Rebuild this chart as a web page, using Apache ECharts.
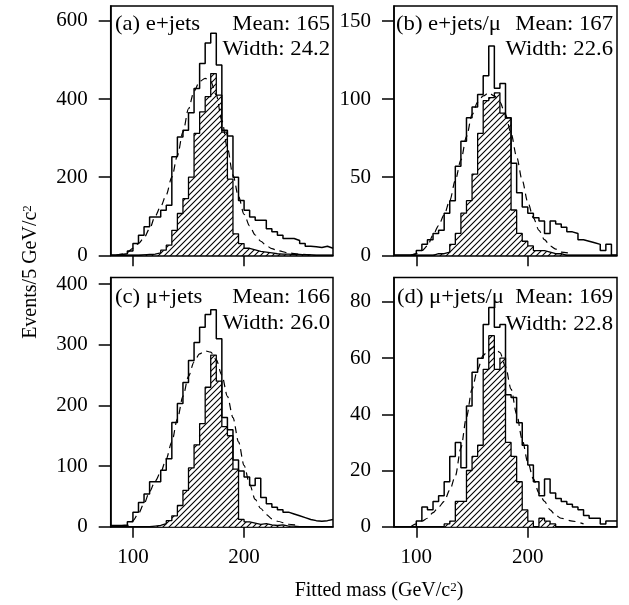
<!DOCTYPE html>
<html><head><meta charset="utf-8">
<script src="https://cdn.jsdelivr.net/npm/echarts@6/dist/echarts.min.js"></script>
<style>html,body{margin:0;padding:0;background:#fff}#c{width:629px;height:605px}</style>
</head><body><div id="c"></div>
<script>
// ---- data ----
const binLeft = [80,85,90,95,100,105,110,115,120,125,130,135,140,145,150,155,160,165,170,175,
                 180,185,190,195,200,205,210,215,220,225,230,235,240,245,250,255,260,265,270,275];
const binEdgeMax = 280;
const xTicks = [100, 200];

// (a) e+jets
const aAll   = [0,2,4,11,30,51,73,98,98,115,128,252,303,320,365,427,491,543,568,487,
                320,305,200,140,115,98,90,90,68,60,51,43,43,38,30,23,22,20,23,18];
const aHatch = [0,0,0,0,0,1,2,3,6,13,26,64,107,145,200,312,367,406,465,410,
                315,195,55,30,18,14,10,8,6,4,3,3,2,2,1,1,0,0,0,0];
const aFitX  = [85,90,95,100,105,110,115,120,125,130,135,140,145,150,155,160,165,170,175,180,185,190,195,200,205,210,215,220,225,230,240,250,260];
const aFitY  = [0,3,8,18,30,45,68,100,125,155,200,255,315,375,420,445,453,445,410,345,275,205,150,105,75,52,36,25,17,12,6,3,1];
const aTicks = [0,200,400,600];

// (b) e+jets/mu
const bAll   = [0,0,0,1,3,7,10,14,16,27,35,57,73,88,95,103,115,134,107,110,
                88,59,40,31,27,24,22,14,22,20,18,15,14,10,9,8,7,3,7,0];
const bHatch = [0,0,0,0,0,0,0,1,1,2,7,14,27,35,52,78,99,101,104,91,
                88,29,14,9,6,3,3,2,1,1,0,0,0,0,0,0,0,0,0,0];
const bFitX  = [95,100,105,110,115,120,125,130,135,140,145,150,155,160,165,170,175,180,185,190,195,200,205,210,215,220,225,230,240];
const bFitY  = [0,1,3,6,13,19,26,35,48,61,76,90,98,102,104,102,98,90,78,63,48,34,24,16,10,6,4,2,1];
const bTicks = [0,50,100,150];

// (c) mu+jets
const cAll   = [2,2,3,8,24,40,54,74,74,93,112,172,203,238,274,304,329,350,358,310,
                180,160,110,92,82,68,80,48,38,32,28,24,21,18,15,12,10,9,10,12];
const cHatch = [0,0,0,0,0,0,0,1,2,5,10,18,35,60,97,135,170,230,283,240,
                165,150,95,12,8,6,4,5,3,2,3,1,1,0,0,0,0,0,0,0];
const cFitX  = [90,95,100,105,110,115,120,125,130,135,140,145,150,155,160,165,170,175,180,185,190,195,200,205,210,215,220,225,230,240,250];
const cFitY  = [0,2,10,22,38,58,75,90,112,140,178,215,248,272,285,290,288,275,250,215,180,140,101,70,45,30,20,13,9,4,2];
const cTicks = [0,100,200,300,400];

// (d) mu+jets/mu
const dAll   = [0,0,0,0,2,7,6,9,11,16,25,30,21,43,55,60,72,78,71,72,
                47,46,37,29,22,16,11,17,12,10,9,8,7,6,4,3,3,1,2,2];
const dHatch = [0,0,0,0,0,0,0,0,0,1,2,9,9,20,25,29,56,68,56,60,
                30,25,16,6,2,0,3,2,1,0,0,0,0,0,0,0,0,0,0,0];
const dFitX  = [95,100,105,110,115,120,125,130,135,140,145,150,155,160,165,170,175,180,185,190,195,200,205,210,215,220,225,230,240,250];
const dFitY  = [0,1,2,3,5,7,9,13,18,28,39,49,56,61,63,64,62,57,49,40,31,23,17,12,9,6,4,3,2,1];
const dTicks = [0,20,40,60,80];

const panelLabels = ['(a) e+jets', '(b) e+jets/\u03bc', '(c) \u03bc+jets', '(d) \u03bc+jets/\u03bc'];
const meanLabels  = ['Mean: 165', 'Mean: 167', 'Mean: 166', 'Mean: 169'];
const widthLabels = ['Width: 24.2', 'Width: 22.6', 'Width: 26.0', 'Width: 22.8'];

// ---- drawing ----
const FONT = '"Liberation Serif", "Times New Roman", serif';
const FS = 21;

function hatchPattern() {
  const s = 6, c = document.createElement('canvas');
  c.width = s; c.height = s;
  const g = c.getContext('2d');
  g.fillStyle = '#fff'; g.fillRect(0, 0, s, s);
  g.strokeStyle = '#000'; g.lineWidth = 1.1;
  g.beginPath();
  g.moveTo(0, s); g.lineTo(s, 0);
  g.moveTo(-1, 1); g.lineTo(1, -1);
  g.moveTo(s - 1, s + 1); g.lineTo(s + 1, s - 1);
  g.stroke();
  return c;
}
const pat = hatchPattern();

function stepData(vals) {
  const d = binLeft.map((x, i) => [x, vals[i]]);
  d.push([binEdgeMax, vals[vals.length - 1]]);
  return d;
}

const panels = [
  {all: aAll, hatch: aHatch, fx: aFitX, fy: aFitY, ticks: aTicks, ymax: 638},
  {all: bAll, hatch: bHatch, fx: bFitX, fy: bFitY, ticks: bTicks, ymax: 159.6},
  {all: cAll, hatch: cHatch, fx: cFitX, fy: cFitY, ticks: cTicks, ymax: 411},
  {all: dAll, hatch: dHatch, fx: dFitX, fy: dFitY, ticks: dTicks, ymax: 88.7}
];
const grids = [
  {left: 110.7, top: 6, width: 222.3, height: 249.3},
  {left: 394, top: 6, width: 223, height: 249.3},
  {left: 110.7, top: 277.5, width: 222.3, height: 249.2},
  {left: 394, top: 277.5, width: 223, height: 249.2}
];

const option = {
  animation: false,
  backgroundColor: '#fff',
  grid: grids.map(g => Object.assign({show: true, borderColor: '#000', borderWidth: 1.5, backgroundColor: 'transparent', containLabel: false}, g)),
  xAxis: panels.map((p, i) => ({
    type: 'value', gridIndex: i, min: 80, max: 280,
    axisLine: {show: true, onZero: false, lineStyle: {color: '#000', width: 1.5}},
    axisTick: {show: true, length: 11, customValues: xTicks, lineStyle: {color: '#000', width: 1.5}},
    axisLabel: {show: i >= 2, customValues: xTicks, color: '#000', fontFamily: FONT, fontSize: FS, margin: 20},
    splitLine: {show: false}
  })),
  yAxis: panels.map((p, i) => ({
    type: 'value', gridIndex: i, min: 0, max: p.ymax,
    axisLine: {show: true, onZero: false, lineStyle: {color: '#000', width: 1.5}},
    axisTick: {show: true, length: 12, customValues: p.ticks, lineStyle: {color: '#000', width: 1.5}},
    axisLabel: {customValues: p.ticks, color: '#000', fontFamily: FONT, fontSize: FS, margin: 23},
    splitLine: {show: false}
  })),
  series: [],
  graphic: []
};

panels.forEach((p, i) => {
  option.series.push({
    type: 'line', xAxisIndex: i, yAxisIndex: i, step: 'end', symbol: 'none',
    data: stepData(p.hatch), z: 2,
    lineStyle: {color: '#000', width: 1.3},
    areaStyle: {color: {image: pat, repeat: 'repeat'}, opacity: 1}
  });
  option.series.push({
    type: 'line', xAxisIndex: i, yAxisIndex: i, step: 'end', symbol: 'none',
    data: stepData(p.all), z: 3,
    lineStyle: {color: '#000', width: 1.5}
  });
  option.series.push({
    type: 'line', xAxisIndex: i, yAxisIndex: i, symbol: 'none', smooth: 0.3, smoothMonotone: 'x',
    data: p.fx.map((x, k) => [x, p.fy[k]]), z: 4,
    lineStyle: {color: '#000', width: 1.2, type: [7, 5]}
  });
});

const textPos = [
  {lx: 115, rx: 330, y1: 24, y2: 49},
  {lx: 396, rx: 613, y1: 24, y2: 49},
  {lx: 115, rx: 330, y1: 297, y2: 323},
  {lx: 397, rx: 613, y1: 297, y2: 324}
];
function txt(t, x, y, align) {
  return {type: 'text', x: x, y: y, z: 100, scaleX: 1.08,
    style: {text: t, font: FS + 'px ' + FONT, fill: '#000', align: align, textAlign: align,
            verticalAlign: 'middle', textVerticalAlign: 'middle'}};
}
textPos.forEach((tp, i) => {
  option.graphic.push(txt(panelLabels[i], tp.lx, tp.y1, 'left'));
  option.graphic.push(txt(meanLabels[i], tp.rx, tp.y1, 'right'));
  option.graphic.push(txt(widthLabels[i], tp.rx, tp.y2, 'right'));
});
const richT = {
  t: {fontFamily: FONT, fontSize: 20, fill: '#000', color: '#000'},
  s: {fontFamily: FONT, fontSize: 13, fill: '#000', color: '#000', verticalAlign: 'top', padding: [0, 0, 6, 0]}
};
option.graphic.push({
  type: 'text', x: 31, y: 272, rotation: Math.PI / 2, z: 100,
  style: {text: '{t|Events/5 GeV/c}{s|2}', rich: richT, align: 'center', textAlign: 'center',
          verticalAlign: 'middle', textVerticalAlign: 'middle', fill: '#000'}
});
option.graphic.push({
  type: 'text', x: 379, y: 591, z: 100,
  style: {text: '{t|Fitted mass (GeV/c}{s|2}{t|)}', rich: richT, align: 'center', textAlign: 'center',
          verticalAlign: 'middle', textVerticalAlign: 'middle', fill: '#000'}
});

const chart = echarts.init(document.getElementById('c'), null, {renderer: 'canvas'});
chart.setOption(option);
</script>
</body></html>
